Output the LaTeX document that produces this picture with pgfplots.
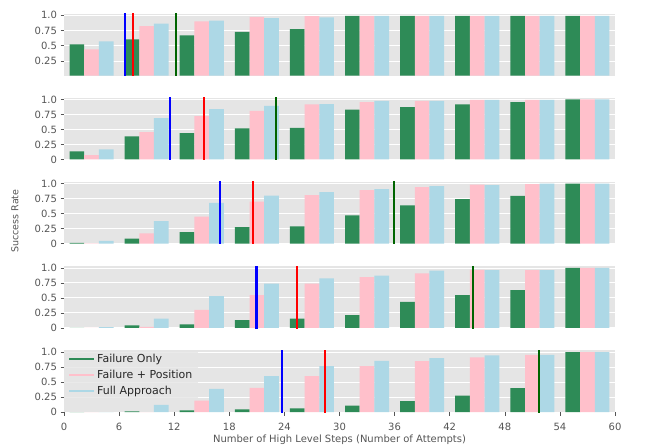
\documentclass[border=0pt]{standalone}
\usepackage{fontspec}
\setmainfont{DejaVu Sans}
\usepackage{pgfplots}
\usepackage{pgfplotstable}
\pgfplotsset{compat=1.18}
\definecolor{bgc}{HTML}{E5E5E5}
\definecolor{tickc}{HTML}{555555}
\definecolor{sgreen}{HTML}{2E8B57}
\definecolor{pinkc}{HTML}{FFC0CB}
\definecolor{lblue}{HTML}{ADD8E6}
\definecolor{dgreen}{HTML}{006400}

\pgfplotstableread{
x g p b
3 0.524 0.44 0.573
9 0.606 0.82 0.863
15 0.67 0.90 0.912
21 0.726 0.973 0.95
27 0.77 0.984 0.962
33 0.99 0.99 0.99
39 0.99 0.99 0.99
45 0.99 0.99 0.99
51 0.99 0.99 0.99
57 0.99 0.99 0.99
}\dataA
\pgfplotstableread{
x g p b
3 0.133 0.072 0.167
9 0.383 0.456 0.689
15 0.439 0.722 0.839
21 0.517 0.811 0.894
27 0.528 0.917 0.922
33 0.833 0.956 0.978
39 0.872 0.978 0.978
45 0.917 0.994 0.994
51 0.956 0.994 0.994
57 1.0 1.0 1.0
}\dataB
\pgfplotstableread{
x g p b
3 0.011 0.004 0.045
9 0.084 0.169 0.376
15 0.191 0.449 0.68
21 0.275 0.702 0.803
27 0.287 0.809 0.86
33 0.472 0.893 0.91
39 0.64 0.944 0.96
45 0.742 0.983 0.978
51 0.798 0.994 1.0
57 1.0 1.0 1.0
}\dataC
\pgfplotstableread{
x g p b
3 0 0 0.011
9 0.039 0.017 0.152
15 0.056 0.298 0.528
21 0.129 0.545 0.736
27 0.152 0.736 0.826
33 0.213 0.848 0.871
39 0.433 0.91 0.955
45 0.545 0.966 0.961
51 0.629 0.961 0.961
57 1.0 1.0 1.0
}\dataD
\pgfplotstableread{
x g p b
3 0 0 0
9 0.011 0 0.118
15 0.028 0.191 0.388
21 0.045 0.404 0.601
27 0.062 0.601 0.764
33 0.107 0.764 0.854
39 0.18 0.848 0.899
45 0.275 0.91 0.944
51 0.399 0.955 0.955
57 1.0 1.0 1.0
}\dataE

\pgfplotsset{
  panel/.style={
    scale only axis, width=551pt, height=62pt, anchor=north west,
    xmin=0, xmax=60, ymin=-0.005, ymax=1.03,
    axis background/.style={fill=bgc},
    axis line style={draw=none},
    ymajorgrids, grid style={white, line width=0.8pt},
    xtick=\empty,
    ytick={0,0.25,0.5,0.75,1}, yticklabels={0,0.25,0.5,0.75,1.0},
    ytick pos=left, xtick pos=bottom,
    tick align=outside, major tick length=3.5pt,
    tick style={tickc, line width=0.6pt},
    tick label style={font=\fontsize{10}{12}\selectfont, text=tickc},
    /pgf/number format/assume math mode=true,
  },
  gbar/.style={ybar, bar width=1.6, bar shift=-1.6, fill=sgreen, draw=none, forget plot},
  pbar/.style={ybar, bar width=1.6, bar shift=0, fill=pinkc, draw=none, forget plot},
  bbar/.style={ybar, bar width=1.6, bar shift=1.6, fill=lblue, draw=none, forget plot},
}

\newcommand{\panelplots}[5]{%
  \addplot[gbar] table[x=x,y=g] {#1};
  \addplot[pbar] table[x=x,y=p] {#1};
  \addplot[bbar] table[x=x,y=b] {#1};
  \addplot[blue, line width=2.1pt, forget plot] coordinates {(#2,-0.1) (#2,1.2)};
  \addplot[red, line width=2.1pt, forget plot] coordinates {(#3,-0.1) (#3,1.2)};
  \addplot[dgreen, line width=2.1pt, forget plot] coordinates {(#4,-0.1) (#4,1.2)};
  \node[text=tickc, font=\fontsize{10}{12}\selectfont, anchor=center] at (rel axis cs:1,0.5) [xshift=27pt] {n=#5};
}

\begin{document}
\begin{tikzpicture}
\useasboundingbox (0,0) rectangle (655pt,-447pt);

\begin{axis}[panel, at={(64pt,-13.5pt)}, ymin=0.015, ymax=1.027]
\panelplots{\dataA}{6.64}{7.48}{12.24}{1}
\end{axis}

\begin{axis}[panel, at={(64pt,-97.7pt)}]
\panelplots{\dataB}{11.55}{15.2}{23.06}{2}
\end{axis}

\begin{axis}[panel, at={(64pt,-181.9pt)}]
\panelplots{\dataC}{17.0}{20.55}{35.95}{3}
\end{axis}

\begin{axis}[panel, at={(64pt,-266.1pt)}]
\panelplots{\dataD}{20.96}{25.4}{44.5}{4}
\end{axis}

\begin{axis}[panel, at={(64pt,-350.3pt)},
  xtick={0,6,...,60},
  xticklabel style={yshift=-4pt},
  legend style={at={(0,1)}, anchor=north west, fill=bgc, fill opacity=0.8, text opacity=1,
    draw=none, font=\fontsize{11}{13}\selectfont, text=black!85, row sep=2pt,
    inner xsep=4pt, inner ysep=2pt},
  legend cell align=left,
  legend image code/.code={\draw[line width=2pt, #1] (0pt,0pt) -- (25pt,0pt);},
]
\panelplots{\dataE}{23.7}{28.4}{51.7}{5}
\addlegendimage{draw=sgreen}
\addlegendentry{Failure Only}
\addlegendimage{draw=pinkc}
\addlegendentry{Failure + Position}
\addlegendimage{draw=lblue}
\addlegendentry{Full Approach}
\end{axis}

\node[text=tickc, font=\fontsize{9.5}{11}\selectfont, rotate=90] at (15pt,-221pt) {Success Rate};
\node[text=tickc, font=\fontsize{10}{12}\selectfont] at (339.5pt,-439.5pt) {Number of High Level Steps (Number of Attempts)};
\end{tikzpicture}
\end{document}
